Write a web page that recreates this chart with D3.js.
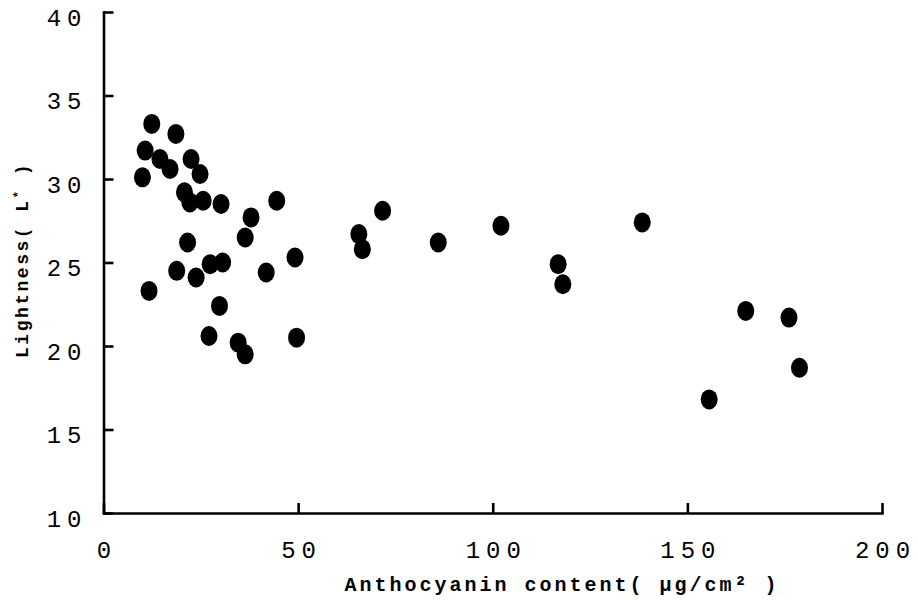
<!DOCTYPE html>
<html>
<head>
<meta charset="utf-8">
<script src="https://cdn.jsdelivr.net/npm/d3@7"></script>
<style>
  body { margin: 0; background: #fff; }
  .axis path, .axis line { stroke: #000; stroke-width: 2.6; }
  .axis text { font-family: "Liberation Mono", monospace; fill: #000; }
</style>
</head>
<body>
<div class="chart"></div>
<script>
// anthocyanin content (ug/cm2) and lightness L*
var anthocyanin = [12.4, 18.6, 10.7, 14.5, 17.1, 22.5, 24.8, 10.0, 20.8, 22.2,
                   25.6, 30.2, 44.5, 37.9, 36.4, 21.6, 49.2, 18.8, 23.8, 27.4,
                   30.6, 41.8, 11.7, 29.8, 27.1, 34.6, 36.4, 49.6, 71.7, 65.6,
                   66.5, 86.0, 102.1, 116.8, 118.0, 138.4, 165.0, 176.1, 178.8, 155.6];
var lightness   = [33.3, 32.7, 31.7, 31.2, 30.6, 31.2, 30.3, 30.1, 29.2, 28.6,
                   28.7, 28.5, 28.7, 27.7, 26.5, 26.2, 25.3, 24.5, 24.1, 24.9,
                   25.0, 24.4, 23.3, 22.4, 20.6, 20.2, 19.5, 20.5, 28.1, 26.7,
                   25.8, 26.2, 27.2, 24.9, 23.7, 27.4, 22.1, 21.7, 18.7, 16.8];
var xTicks = [0, 50, 100, 150, 200];
var yTicks = [10, 15, 20, 25, 30, 35, 40];

var svgWidth = 918;
var svgHeight = 600;
var margin = { top: 12, right: 36, bottom: 87, left: 103.5 };
var width = svgWidth - margin.left - margin.right;
var height = svgHeight - margin.top - margin.bottom;

var svg = d3.select(".chart")
    .append("svg")
    .attr("width", svgWidth)
    .attr("height", svgHeight);

var chartGroup = svg.append("g")
    .attr("transform", `translate(${margin.left}, ${margin.top})`);

var dataSet = anthocyanin.map((a, i) => ({ x: a, y: lightness[i] }));

var xLinearScale = d3.scaleLinear().domain([0, 200]).range([0, width]);
var yLinearScale = d3.scaleLinear().domain([10, 40]).range([height, 0]);

var bottomAxis = d3.axisBottom(xLinearScale)
    .tickValues(xTicks)
    .tickSizeInner(-10)
    .tickSizeOuter(0)
    .tickPadding(28);
var leftAxis = d3.axisLeft(yLinearScale)
    .tickValues(yTicks)
    .tickSizeInner(-10)
    .tickSizeOuter(0)
    .tickPadding(16);

var gx = chartGroup.append("g")
    .attr("class", "axis")
    .attr("transform", `translate(0, ${height})`)
    .call(bottomAxis);
gx.selectAll("text")
    .style("font-size", "24px")
    .style("letter-spacing", "6px")
    .attr("dx", 3);

var gy = chartGroup.append("g")
    .attr("class", "axis")
    .call(leftAxis);
gy.selectAll("text")
    .style("font-size", "24px")
    .style("letter-spacing", "6px")
    .attr("dy", "0.55em");

chartGroup.selectAll(".axis path").attr("stroke-linecap", "square");

// points
chartGroup.selectAll("ellipse")
    .data(dataSet)
    .enter()
    .append("ellipse")
    .attr("cx", d => xLinearScale(d.x))
    .attr("cy", d => yLinearScale(d.y))
    .attr("rx", 8.5)
    .attr("ry", 10)
    .attr("fill", "#000");

// axis titles
svg.append("text")
    .attr("x", 562)
    .attr("y", 591)
    .attr("text-anchor", "middle")
    .style("font-family", "Liberation Mono, monospace")
    .style("font-size", "20px")
    .style("font-weight", "bold")
    .style("letter-spacing", "3px")
    .text("Anthocyanin content( \u03bcg/cm\u00b2 )");

var yl = svg.append("text")
    .attr("transform", "translate(28, 260) rotate(-90)")
    .attr("text-anchor", "middle")
    .style("font-family", "Liberation Mono, monospace")
    .style("font-size", "18px")
    .style("font-weight", "bold")
    .style("letter-spacing", "2.5px");
yl.append("tspan").text("Lightness( L");
yl.append("tspan").attr("dy", -6).style("font-size", "12px").text("*");
yl.append("tspan").attr("dy", 6).text(" )");
</script>
</body>
</html>
